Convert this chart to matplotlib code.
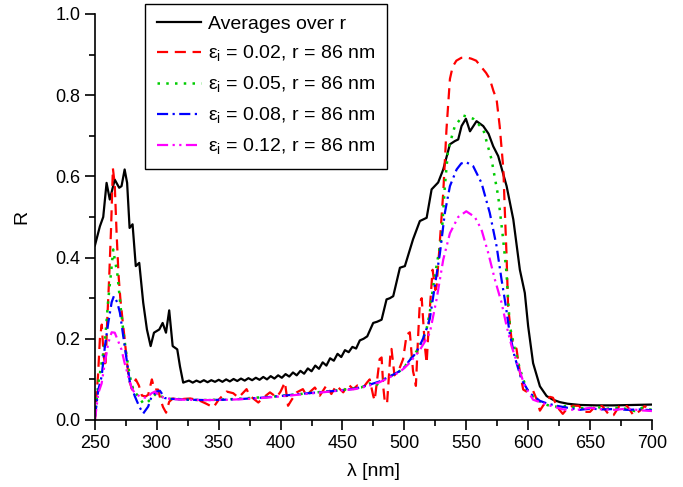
import matplotlib
matplotlib.use("Agg")
import matplotlib.pyplot as plt
from matplotlib.ticker import MultipleLocator, FormatStrFormatter

plt.rcParams["font.family"] = ["Liberation Sans", "DejaVu Sans"]
plt.rcParams["mathtext.fontset"] = "custom"
plt.rcParams["mathtext.rm"] = "Liberation Sans"

# averages over r (black)
avg_nm = [250, 254, 256.7, 259.4, 262, 266, 269.6, 271.5, 274, 276, 278, 280.4, 283, 285.8,
          289, 292, 295, 297.7, 302, 304.7, 307.4, 310, 312.8, 316.5, 318.7, 321.3,
          323, 326, 329, 332, 335, 338, 341, 344, 347, 350, 353, 356, 359, 362, 365, 368,
          371, 374, 377, 380, 383, 386, 389, 392, 395, 398, 401, 404, 407, 410, 413, 416,
          419, 422, 425, 428, 431, 434, 437, 440, 443, 446, 449, 452, 455, 458, 461, 464,
          467, 470, 474.8, 478, 481.6, 485.6, 488.3, 491, 496.4, 500.4, 507, 512.5, 518,
          522, 527.3, 531.4, 536.8, 540.8, 543.5, 546.2, 549.7, 553, 558.3, 563.7, 568,
          571.8, 575.8, 582.6, 588, 593.3, 597.3, 600, 604, 609.5, 614.9, 620, 625.6, 632,
          641.8, 655, 668.7, 685, 700]
avg_R = [0.43, 0.477, 0.50, 0.584, 0.543, 0.592, 0.572, 0.576, 0.617, 0.584, 0.473, 0.482,
         0.379, 0.387, 0.289, 0.223, 0.182, 0.215, 0.223, 0.239, 0.215, 0.27, 0.182, 0.174,
         0.132, 0.092, 0.094, 0.097, 0.092, 0.097, 0.093, 0.098, 0.093, 0.098, 0.094, 0.099,
         0.094, 0.1, 0.095, 0.101, 0.096, 0.102, 0.097, 0.103, 0.098, 0.104, 0.099, 0.106,
         0.1, 0.108, 0.102, 0.11, 0.104, 0.113, 0.107, 0.117, 0.11, 0.121, 0.114, 0.127,
         0.12, 0.134, 0.126, 0.142, 0.134, 0.152, 0.146, 0.163, 0.155, 0.172, 0.167, 0.18,
         0.176, 0.196, 0.2, 0.206, 0.239, 0.242, 0.247, 0.297, 0.3, 0.305, 0.375, 0.379,
         0.445, 0.49, 0.498, 0.568, 0.585, 0.617, 0.679, 0.687, 0.691, 0.724, 0.742, 0.711,
         0.736, 0.724, 0.705, 0.674, 0.65, 0.576, 0.494, 0.37, 0.313, 0.231, 0.14, 0.083,
         0.059, 0.05, 0.044, 0.04, 0.037, 0.036, 0.036, 0.037, 0.038]

# eps_i = 0.02 (red)
e02_nm = [250, 251, 252.5, 254, 255.5, 257, 258.5, 260, 261.5, 263, 264.5, 266, 267.5, 269,
          270.5, 272.5, 274, 275.6, 277.5, 280, 283, 285.5, 288, 291, 293, 296, 298, 301,
          303, 305, 307.5, 310, 313, 318, 322, 327, 332, 335, 340, 345.7, 350, 356.4, 361.7,
          366, 372.5, 375, 382, 386, 391.4, 396.8, 400, 403.5, 406, 409, 413, 418, 421, 424,
          427.7, 431.7, 437, 441, 445, 450.6, 454.6, 458.7, 462, 466.8, 470, 472, 474.8, 476,
          478, 480, 481.6, 483, 484.2, 486, 488.8, 489.6, 492, 496.4, 499, 501.8, 504.4, 507,
          508.5, 509.3, 511, 512.5, 514, 516.6, 518, 520, 522.8, 525, 526, 528, 531.4, 534,
          536.8, 539, 542, 546, 550, 554, 558, 562, 566, 569, 572, 574.5, 577, 580, 581,
          582.5, 583.8, 586.5, 590.6, 593.3, 596, 598.7, 601, 604, 607, 609.5, 612, 617.5,
          620, 624, 628, 632, 636, 641, 645, 650, 655, 660, 666, 669, 674, 680, 685, 690,
          694, 700]
e02_R = [0.0, 0.05, 0.11, 0.2, 0.235, 0.16, 0.13, 0.25, 0.35, 0.47, 0.62, 0.58, 0.46, 0.36,
         0.3, 0.24, 0.2, 0.15, 0.1, 0.075, 0.1, 0.085, 0.06, 0.058, 0.062, 0.1, 0.075, 0.075,
         0.05, 0.032, 0.018, 0.045, 0.053, 0.05, 0.052, 0.053, 0.05, 0.047, 0.04, 0.031,
         0.05, 0.07, 0.066, 0.055, 0.076, 0.06, 0.043, 0.055, 0.068, 0.056, 0.07, 0.093,
         0.035, 0.05, 0.068, 0.076, 0.06, 0.07, 0.08, 0.06, 0.085, 0.064, 0.085, 0.068,
         0.088, 0.076, 0.085, 0.08, 0.093, 0.1, 0.06, 0.048, 0.1, 0.15, 0.154, 0.08, 0.045,
         0.04, 0.167, 0.175, 0.11, 0.13, 0.15, 0.21, 0.216, 0.12, 0.1, 0.084, 0.2, 0.29, 0.3,
         0.18, 0.14, 0.25, 0.37, 0.32, 0.33, 0.41, 0.56, 0.715, 0.84, 0.87, 0.885, 0.892,
         0.893, 0.89, 0.885, 0.87, 0.855, 0.84, 0.81, 0.79, 0.724, 0.617, 0.527, 0.41, 0.28,
         0.2, 0.175, 0.118, 0.075, 0.07, 0.071, 0.072, 0.05, 0.023, 0.035, 0.057, 0.055,
         0.03, 0.015, 0.03, 0.035, 0.035, 0.02, 0.02, 0.036, 0.034, 0.01, 0.012, 0.036,
         0.034, 0.012, 0.022, 0.034, 0.025]

# eps_i = 0.05 (green)
e05_nm = [250, 252.7, 255.4, 258, 260.8, 263, 264.8, 266, 268, 270.7, 272.9, 275.6, 278.3,
          281, 285, 289, 291.7, 295.8, 299.8, 303.8, 308, 315, 325, 335, 350, 365, 380, 395,
          410, 425, 440, 455, 465, 472, 476, 481, 486, 490, 496, 500, 504, 508, 512, 515,
          518, 520.6, 523.3, 526, 530, 532.7, 535.4, 540.8, 547.5, 555.6, 563.7, 570.4,
          575.8, 579.8, 582.5, 583.8, 585.2, 589.2, 593.3, 598.7, 603, 606.8, 612, 617.5,
          625, 632, 640, 648, 655, 662, 670, 678, 686, 692, 700]
e05_R = [0.008, 0.09, 0.14, 0.19, 0.297, 0.363, 0.42, 0.396, 0.363, 0.28, 0.22, 0.157,
         0.107, 0.074, 0.058, 0.041, 0.041, 0.054, 0.066, 0.058, 0.052, 0.052, 0.05, 0.049,
         0.05, 0.052, 0.055, 0.058, 0.062, 0.067, 0.071, 0.076, 0.08, 0.09, 0.082, 0.095,
         0.105, 0.11, 0.12, 0.13, 0.148, 0.16, 0.18, 0.2, 0.225, 0.266, 0.33, 0.38, 0.45,
         0.576, 0.667, 0.724, 0.75, 0.742, 0.716, 0.642, 0.551, 0.445, 0.363, 0.297, 0.231,
         0.175, 0.126, 0.076, 0.06, 0.052, 0.04, 0.035, 0.032, 0.035, 0.03, 0.028, 0.033,
         0.027, 0.03, 0.028, 0.022, 0.03, 0.025]

# eps_i = 0.08 (blue)
e08_nm = [250, 252.7, 255.4, 258, 260.8, 263.5, 265.3, 268, 270.2, 272.9, 275.6, 278.3,
          282.3, 285.8, 289, 293, 295.8, 299.8, 302.5, 306.5, 312, 325, 340, 355, 370, 385,
          400, 415, 430, 445, 460, 470, 480, 486, 490, 496, 500, 504, 508, 512, 515, 518,
          520.6, 524.6, 528.7, 532.7, 536.8, 542.2, 546, 550, 555.6, 562.3, 569, 574.5,
          578.5, 582, 585, 589, 594.6, 601, 609.5, 616, 623, 632, 641.8, 650, 660, 670, 680,
          690, 700]
e08_R = [0.008, 0.074, 0.107, 0.18, 0.24, 0.29, 0.305, 0.29, 0.264, 0.206, 0.149, 0.091,
         0.058, 0.033, 0.016, 0.033, 0.058, 0.07, 0.072, 0.054, 0.052, 0.05, 0.049, 0.05,
         0.052, 0.055, 0.059, 0.064, 0.068, 0.072, 0.077, 0.085, 0.095, 0.104, 0.11, 0.12,
         0.13, 0.146, 0.16, 0.18, 0.2, 0.225, 0.25, 0.33, 0.41, 0.51, 0.576, 0.617, 0.632,
         0.635, 0.625, 0.584, 0.51, 0.428, 0.346, 0.28, 0.215, 0.157, 0.1, 0.067, 0.047,
         0.04, 0.035, 0.03, 0.025, 0.028, 0.026, 0.027, 0.025, 0.026, 0.024]

# eps_i = 0.12 (magenta)
e12_nm = [250, 252.7, 255.4, 258, 260.8, 263.5, 266, 268.8, 271.5, 274, 277, 279.7, 282.3,
          286.3, 291.7, 295.8, 298.4, 302.5, 308, 320, 340, 360, 380, 400, 420, 440, 460,
          470, 480, 486, 490, 496, 500, 504, 508, 512, 515, 518, 520.6, 526, 531.4, 536.8,
          543.5, 550, 556.9, 562.3, 567.7, 573.1, 578.5, 582.6, 586.6, 592, 597.3, 604,
          614.8, 628.3, 640, 650, 660, 670, 680, 690, 700]
e12_R = [0.0, 0.066, 0.09, 0.14, 0.19, 0.216, 0.215, 0.194, 0.173, 0.14, 0.107, 0.078,
         0.066, 0.058, 0.054, 0.066, 0.07, 0.058, 0.053, 0.05, 0.049, 0.05, 0.053, 0.058,
         0.064, 0.07, 0.076, 0.083, 0.093, 0.102, 0.108, 0.118, 0.128, 0.14, 0.155, 0.17,
         0.185, 0.2, 0.215, 0.297, 0.395, 0.46, 0.5, 0.514, 0.5, 0.469, 0.412, 0.346, 0.289,
         0.231, 0.182, 0.132, 0.083, 0.05, 0.038, 0.026, 0.025, 0.03, 0.026, 0.025, 0.028,
         0.024, 0.022]

fig = plt.figure(figsize=(6.83, 4.87), dpi=100)
ax = fig.add_axes([0.139, 0.1376, 0.8155, 0.8337])

ax.plot(avg_nm, avg_R, color="black", lw=1.6, label="Averages over r")
ax.plot(e02_nm, e02_R, color="#ff0000", lw=1.6, ls=(0, (5, 3)),
        label="ε$_\\mathregular{i}$ = 0.02, r = 86 nm")
ax.plot(e05_nm, e05_R, color="#00cc00", lw=1.8, ls=(0, (1, 2.5)),
        label="ε$_\\mathregular{i}$ = 0.05, r = 86 nm")
ax.plot(e08_nm, e08_R, color="#0000ff", lw=1.6, ls=(0, (5, 2, 1, 2)),
        label="ε$_\\mathregular{i}$ = 0.08, r = 86 nm")
ax.plot(e12_nm, e12_R, color="#ff00ff", lw=1.6, ls=(0, (5, 2, 1, 2, 1, 2)),
        label="ε$_\\mathregular{i}$ = 0.12, r = 86 nm")

ax.set_xlim(250, 700)
ax.set_ylim(0, 1.0)
ax.xaxis.set_major_locator(MultipleLocator(50))
ax.xaxis.set_minor_locator(MultipleLocator(25))
ax.yaxis.set_major_locator(MultipleLocator(0.2))
ax.yaxis.set_minor_locator(MultipleLocator(0.1))
ax.yaxis.set_major_formatter(FormatStrFormatter("%.1f"))
ax.spines["top"].set_visible(False)
ax.spines["right"].set_visible(False)
for s in ("left", "bottom"):
    ax.spines[s].set_linewidth(1.2)
ax.tick_params(which="major", direction="out", length=7, width=1.2, labelsize=13)
ax.tick_params(which="minor", direction="out", length=4, width=1.2)
ax.set_xlabel("λ [nm]", fontsize=14, labelpad=8)
ax.set_ylabel("R", fontsize=14, labelpad=18)

leg = ax.legend(loc="upper left", bbox_to_anchor=(0.09, 1.025), borderaxespad=0,
                fontsize=14, handlelength=2.3, handletextpad=0.35, labelspacing=0.55,
                fancybox=False, framealpha=1, edgecolor="black", borderpad=0.6)
leg.get_frame().set_linewidth(1.0)

fig.savefig("out.png", dpi=100)
